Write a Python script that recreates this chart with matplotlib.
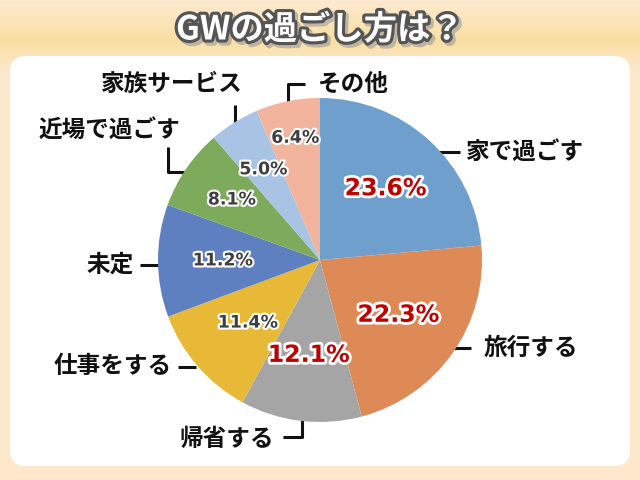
import numpy as np
import matplotlib
matplotlib.use("Agg")
import matplotlib.pyplot as plt
import matplotlib.patheffects as pe
from matplotlib.patches import FancyBboxPatch

plt.rcParams['font.family'] = ['Noto Sans CJK JP', 'DejaVu Sans']

# ------------------------------
# data
# ------------------------------
title = "GWの過ごし方は？"
categories = ["家で過ごす", "旅行する", "帰省する", "仕事をする", "未定",
              "近場で過ごす", "家族サービス", "その他"]
shares = [23.6, 22.3, 12.1, 11.4, 11.2, 8.1, 5.0, 6.4]
colors = ["#6F9FCD", "#DE8A56", "#A5A5A5", "#E8B936", "#5E80C1",
          "#7EAA5B", "#A9C3E5", "#F2B49C"]
highlight = [True, True, True, False, False, False, False, False]

# distance of the % label from the centre (fraction of radius)
pct_dist = [0.60, 0.59, 0.59, 0.59, 0.60, 0.66, 0.66, 0.77]

# label text anchor (px) and elbow leader line (px), layout only
label_xy = [(466, 152), (484, 348), (274, 439), (172, 366),
            (134, 265), (180, 130), (172, 84), (318, 84)]
label_ha = ["left", "left", "right", "right", "right", "right", "center", "left"]
leaders = [
    [(437, 152), (460, 152)],
    [(453, 348), (471, 348)],
    [(283, 437), (302, 437), (302, 420)],
    [(178, 367), (196, 367)],
    [(140, 265), (160, 265)],
    [(168, 147), (168, 172), (186, 172)],
    [(235, 105), (235, 125)],
    [(288, 103), (288, 84), (305, 84)],
]

W, H = 640, 480
fig = plt.figure(figsize=(6.4, 4.8), dpi=100)

# ------------------------------
# background + panel
# ------------------------------
bg = fig.add_axes([0, 0, 1, 1])
bg.set_xlim(0, W)
bg.set_ylim(H, 0)
bg.axis("off")

grad = np.ones((H, 1, 3))
top = np.array([253, 234, 208]) / 255
band = np.array([250, 223, 163]) / 255
base = np.array([253, 232, 204]) / 255
for y in range(H):
    if y < 40:
        t = y / 40
        grad[y, 0] = top * (1 - t) + band * t
    elif y < 70:
        t = (y - 40) / 30
        grad[y, 0] = band * (1 - t) + base * t
    else:
        grad[y, 0] = base
bg.imshow(grad, extent=(0, W, H, 0), aspect="auto", zorder=0)

panel = FancyBboxPatch((10, 56), 620, 410,
                       boxstyle="round,pad=0,rounding_size=16",
                       fc="white", ec="none", zorder=1)
bg.add_patch(panel)

bg.text(320, 30, title, ha="center", va="center", fontsize=24,
        fontweight="bold", color="white", zorder=3,
        path_effects=[pe.Stroke(offset=(2, -2), linewidth=5,
                                foreground="#999999", alpha=0.6),
                      pe.withStroke(linewidth=4.5, foreground="#555555")])

# category labels + leader lines
for name, (lx, ly), ha, pts in zip(categories, label_xy, label_ha, leaders):
    bg.text(lx, ly, name, ha=ha, va="center", fontsize=17,
            fontweight="bold", color="#111111", zorder=5)
    xs, ys = zip(*pts)
    bg.plot(xs, ys, color="#111111", lw=2.2, solid_capstyle="butt", zorder=5)

# ------------------------------
# pie
# ------------------------------
cx, cy, r = 320, 260, 162
ax = fig.add_axes([(cx - r) / W, (H - cy - r) / H, 2 * r / W, 2 * r / H])
wedges, _ = ax.pie(shares, colors=colors, startangle=90, counterclock=False,
                   radius=1.0, wedgeprops=dict(linewidth=0))
ax.set_xlim(-1, 1)
ax.set_ylim(-1, 1)
ax.set_aspect("equal")
ax.axis("off")

for w, val, d, hi in zip(wedges, shares, pct_dist, highlight):
    ang = np.deg2rad((w.theta1 + w.theta2) / 2)
    x, y = d * np.cos(ang), d * np.sin(ang)
    if hi:
        ax.text(x, y, f"{val:.1f}%", ha="center", va="center", fontsize=17,
                fontweight="bold", color="#C00000", family="DejaVu Sans",
                path_effects=[pe.withStroke(linewidth=4, foreground="white")])
    else:
        ax.text(x, y, f"{val:.1f}%", ha="center", va="center", fontsize=12.5,
                fontweight="bold", color="#3F3F3F", family="DejaVu Sans",
                path_effects=[pe.withStroke(linewidth=3, foreground="white")])

fig.savefig("out.png", dpi=100)
